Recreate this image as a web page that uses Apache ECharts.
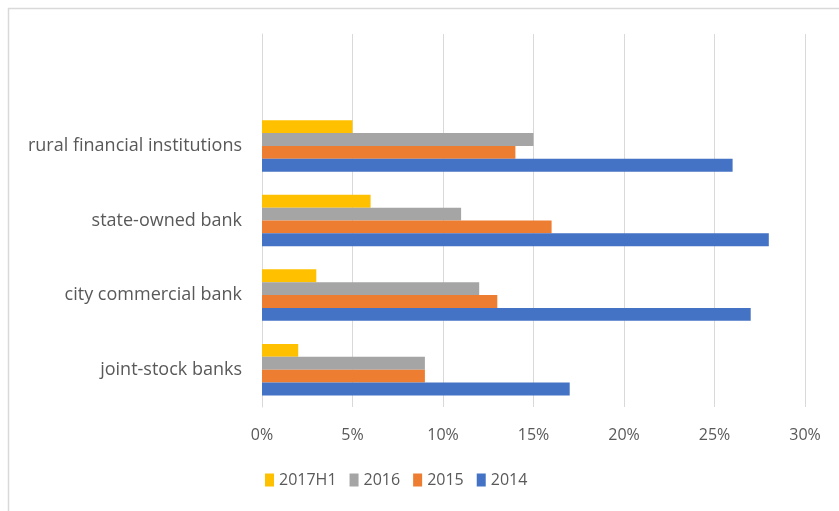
<!DOCTYPE html>
<html>
<head>
<meta charset="utf-8">
<script src="https://cdn.jsdelivr.net/npm/echarts@6/dist/echarts.min.js"></script>
<style>
  html, body { margin: 0; padding: 0; background: #fff; }
  #chart { width: 839px; height: 511px; }
</style>
</head>
<body>
<div id="chart"></div>
<script>
// categories bottom to top, last one is the empty band at the top
var categories = ['joint-stock banks', 'city commercial bank', 'state-owned bank', 'rural financial institutions', ''];
var s2017H1 = [2, 3, 6, 5, null];
var s2016 = [9, 12, 11, 15, null];
var s2015 = [9, 13, 16, 14, null];
var s2014 = [17, 27, 28, 26, null];
var xTicks = [0, 5, 10, 15, 20, 25, 30];

var myChart = echarts.init(document.getElementById('chart'));
var font = '"Open Sans", "Noto Sans", sans-serif';

var option = {
    backgroundColor: '#fff',
    animation: false,
    graphic: [{
        type: 'rect',
        shape: { x: 8.5, y: 8.5, width: 840, height: 520 },
        style: { fill: 'none', stroke: '#d9d9d9', lineWidth: 1.5 },
        silent: true
    }],
    grid: { left: 262, right: 34, top: 34, bottom: 104 },
    legend: {
        top: 467,
        left: 260,
        itemWidth: 9,
        itemHeight: 13,
        itemGap: 13,
        icon: 'rect',
        textStyle: { color: '#595959', fontSize: 16, fontFamily: font },
        data: ['2017H1', '2016', '2015', '2014']
    },
    xAxis: {
        type: 'value',
        min: xTicks[0],
        max: xTicks[xTicks.length - 1],
        interval: 5,
        axisLine: { show: false },
        axisTick: { show: false },
        splitLine: { lineStyle: { color: '#d9d9d9', width: 1 } },
        axisLabel: {
            color: '#595959', fontSize: 16, fontFamily: font, margin: 20,
            formatter: function (v) { return v + '%'; }
        }
    },
    yAxis: {
        type: 'category',
        data: categories,
        axisLine: { show: true, lineStyle: { color: '#d9d9d9' } },
        axisTick: { show: false },
        axisLabel: { color: '#595959', fontSize: 18, fontFamily: font, margin: 20 }
    },
    series: [
        { name: '2017H1', type: 'bar', data: s2017H1, itemStyle: { color: '#FFC000' }, barGap: '0%', barCategoryGap: '31%' },
        { name: '2016', type: 'bar', data: s2016, itemStyle: { color: '#A5A5A5' } },
        { name: '2015', type: 'bar', data: s2015, itemStyle: { color: '#ED7D31' } },
        { name: '2014', type: 'bar', data: s2014, itemStyle: { color: '#4472C4' } }
    ]
};
myChart.setOption(option);
</script>
</body>
</html>
